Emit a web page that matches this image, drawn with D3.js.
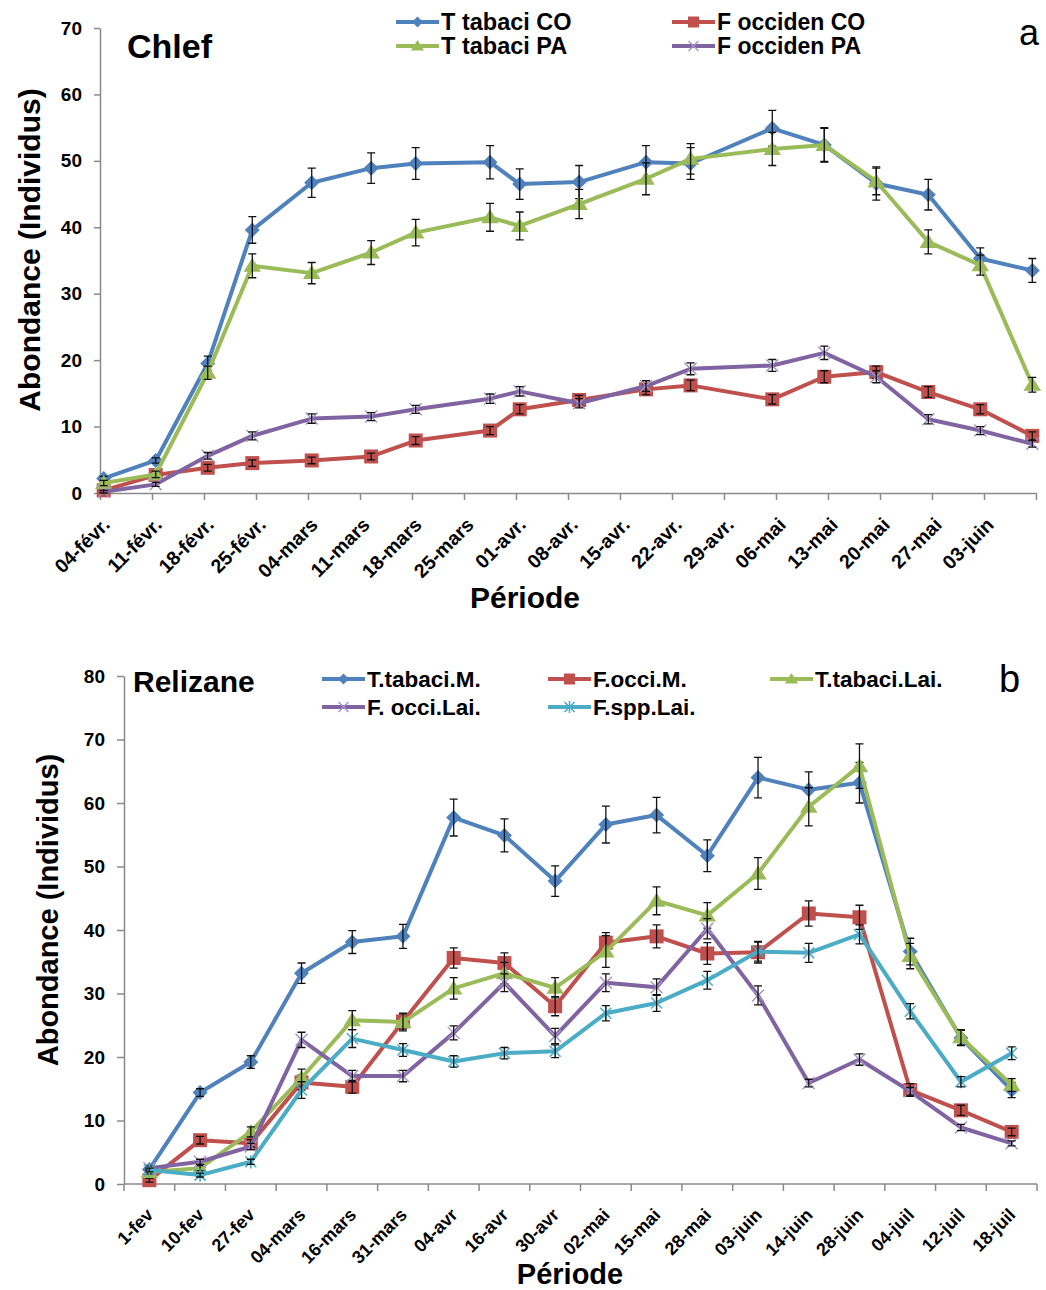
<!DOCTYPE html>
<html>
<head>
<meta charset="utf-8">
<script src="https://cdn.jsdelivr.net/npm/d3@7"></script>
<style>
  body { margin: 0; background: #fff; }
  svg { display: block; }
  text { font-family: "Liberation Sans", Arial, sans-serif; }
</style>
</head>
<body>
<svg id="fig" width="1046" height="1290"></svg>
<script>
// ---------- Panel a : Chlef (sampling dates as days after 04-févr.) ----------
const chlefDays = [0, 7, 14, 20, 28, 36, 42, 52, 56, 64, 73, 79, 90, 97, 104, 111, 118, 125];
const chlefTickDays = [0, 7, 14, 21, 28, 35, 42, 49, 56, 63, 70, 77, 84, 91, 98, 105, 112, 119, 126];
const chlefTickLabels = ["04-févr.", "11-févr.", "18-févr.", "25-févr.", "04-mars", "11-mars", "18-mars",
  "25-mars", "01-avr.", "08-avr.", "15-avr.", "22-avr.", "29-avr.", "06-mai", "13-mai", "20-mai", "27-mai", "03-juin"];
const chlefYTicks = [0, 10, 20, 30, 40, 50, 60, 70];

const tTabaciCO    = [2.2, 4.9, 19.5, 39.6, 46.7, 48.9, 49.6, 49.8, 46.5, 46.8, 49.8, 49.6, 54.9, 52.4, 46.6, 44.9, 35.3, 33.5];
const tTabaciCOErr = [0.3, 0.4, 1.1, 2.0, 2.2, 2.3, 2.4, 2.5, 2.3, 2.5, 2.5, 2.4, 2.7, 2.6, 2.5, 2.3, 1.6, 1.8];
const fOccidenCO    = [0.4, 2.7, 3.8, 4.5, 4.9, 5.5, 7.9, 9.4, 12.6, 14.0, 15.6, 16.2, 14.1, 17.5, 18.2, 15.2, 12.6, 8.6];
const fOccidenCOErr = [0.3, 0.4, 0.5, 0.5, 0.5, 0.5, 0.6, 0.6, 0.7, 0.7, 0.8, 0.8, 0.7, 0.9, 0.9, 0.8, 0.7, 0.6];
const tTabaciPA    = [1.5, 2.8, 18.1, 34.2, 33.1, 36.2, 39.2, 41.5, 40.2, 43.5, 47.3, 50.3, 51.8, 52.4, 46.9, 37.8, 34.3, 16.3];
const tTabaciPAErr = [0.4, 0.5, 1.0, 1.8, 1.6, 1.8, 2.0, 2.1, 2.1, 2.2, 2.4, 2.3, 2.5, 2.5, 2.0, 1.8, 1.5, 1.1];
const fOccidenPA    = [0.2, 1.3, 5.6, 8.6, 11.2, 11.5, 12.6, 14.2, 15.3, 13.5, 16.1, 18.7, 19.2, 21.1, 17.5, 11.1, 9.4, 7.4];
const fOccidenPAErr = [0.2, 0.3, 0.5, 0.6, 0.7, 0.6, 0.6, 0.7, 0.7, 0.7, 0.8, 0.9, 0.9, 1.0, 0.9, 0.7, 0.6, 0.5];

// ---------- Panel b : Relizane ----------
const relizaneDates = ["1-fev", "10-fev", "27-fev", "04-mars", "16-mars", "31-mars", "04-avr", "16-avr", "30-avr",
  "02-mai", "15-mai", "28-mai", "03-juin", "14-juin", "28-juin", "04-juil", "12-juil", "18-juil"];
const relizaneYTicks = [0, 10, 20, 30, 40, 50, 60, 70, 80];

const tTabaciM    = [2.3, 14.4, 19.2, 33.2, 38.1, 39.0, 57.7, 54.9, 47.7, 56.6, 58.1, 51.7, 64.0, 62.1, 63.2, 36.6, 23.0, 14.8];
const tTabaciMErr = [0.4, 0.6, 1.0, 1.6, 1.8, 1.9, 2.9, 2.6, 2.4, 2.9, 2.8, 2.5, 3.2, 2.8, 3.2, 2.1, 1.2, 1.2];
const fOcciM    = [0.6, 6.9, 6.4, 16.0, 15.3, 25.6, 35.6, 34.8, 28.0, 38.0, 39.0, 36.3, 36.5, 42.6, 42.0, 14.8, 11.6, 8.2];
const fOcciMErr = [0.3, 0.6, 0.6, 1.2, 1.0, 1.2, 1.6, 1.6, 1.5, 1.6, 1.8, 1.7, 1.7, 2.0, 1.9, 1.0, 0.8, 0.6];
const tTabaciLai    = [1.9, 2.5, 8.2, 16.7, 25.8, 25.5, 30.8, 33.2, 30.9, 36.6, 44.6, 42.3, 48.9, 59.4, 65.8, 35.9, 23.1, 15.6];
const tTabaciLaiErr = [0.3, 0.4, 0.8, 1.4, 1.5, 1.4, 1.7, 1.7, 1.6, 2.5, 2.2, 2.0, 2.5, 3.0, 3.5, 2.0, 1.2, 1.0];
const fOcciLai    = [2.5, 3.5, 5.9, 22.7, 17.0, 17.0, 23.8, 31.7, 23.3, 31.7, 31.0, 40.2, 29.7, 15.9, 19.6, 14.6, 8.9, 6.4];
const fOcciLaiErr = [0.3, 0.4, 0.5, 1.2, 0.9, 0.9, 1.1, 1.4, 1.2, 1.4, 1.3, 1.6, 1.5, 0.6, 0.9, 0.6, 0.5, 0.4];
const fSppLai    = [2.2, 1.4, 3.5, 14.8, 22.9, 21.1, 19.3, 20.6, 20.9, 26.9, 28.5, 32.1, 36.6, 36.4, 39.3, 27.2, 16.1, 20.6];
const fSppLaiErr = [0.3, 0.3, 0.4, 1.3, 1.4, 1.0, 0.9, 0.9, 1.0, 1.2, 1.3, 1.4, 1.5, 1.5, 1.5, 1.2, 0.8, 1.0];

const BLUE = "#4F81BD", RED = "#C0504D", GREEN = "#9BBB59", PURPLE = "#8064A2", CYAN = "#4BACC6";
const AXIS = "#8a8a8a";

const svg = d3.select("#fig");

// marker shapes drawn around (0,0)
function drawMarker(g, kind, color, s) {
  if (kind === "diamond") {
    g.append("path").attr("d", `M0,${-s}L${s},0L0,${s}L${-s},0Z`).attr("fill", color);
  } else if (kind === "square") {
    g.append("rect").attr("x", -s).attr("y", -s).attr("width", 2 * s).attr("height", 2 * s).attr("fill", color);
  } else if (kind === "triangle") {
    g.append("path").attr("d", `M0,${-s}L${s * 1.1},${s * 0.75}L${-s * 1.1},${s * 0.75}Z`).attr("fill", color);
  } else if (kind === "cross") {
    g.append("path").attr("d", `M${-s},${-s}L${s},${s}M${-s},${s}L${s},${-s}`)
      .attr("stroke", "#a393c6").attr("stroke-width", 1.4).attr("fill", "none");
  } else if (kind === "star") {
    g.append("path").attr("d", `M${-s},${-s}L${s},${s}M${-s},${s}L${s},${-s}M0,${-s * 1.2}L0,${s * 1.2}`)
      .attr("stroke", color).attr("stroke-width", 1.5).attr("fill", "none");
  }
}

function drawSeries(layer, xs, ys, errs, xScale, yScale, color, kind, size) {
  const pts = xs.map((x, i) => ({ x: xScale(x), y: yScale(ys[i]), lo: yScale(ys[i] - errs[i]), hi: yScale(ys[i] + errs[i]) }));
  layer.append("path")
    .attr("d", d3.line().x(d => d.x).y(d => d.y)(pts))
    .attr("fill", "none").attr("stroke", color).attr("stroke-width", 4)
    .attr("stroke-linejoin", "round");
  pts.forEach(p => drawMarker(layer.append("g").attr("transform", `translate(${p.x},${p.y})`), kind, color, size));
  const eb = layer.append("g").attr("stroke", "#111").attr("stroke-width", 1.3).attr("fill", "none");
  pts.forEach(p => {
    eb.append("path").attr("d", `M${p.x},${p.lo}L${p.x},${p.hi}M${p.x - 4},${p.lo}L${p.x + 4},${p.lo}M${p.x - 4},${p.hi}L${p.x + 4},${p.hi}`);
  });
}

function legendItem(g, x, y, color, kind, size, label, fontSize) {
  g.append("line").attr("x1", x).attr("x2", x + 43).attr("y1", y).attr("y2", y)
    .attr("stroke", color).attr("stroke-width", 4);
  drawMarker(g.append("g").attr("transform", `translate(${x + 21.5},${y})`), kind, color, size);
  g.append("text").attr("x", x + 45).attr("y", y).attr("dy", "0.36em")
    .attr("font-size", fontSize).attr("font-weight", "bold").attr("fill", "#000").text(label);
}

// ================= Panel a =================
{
  const x = d3.scaleLinear().domain([0, 126]).range([100, 1036]);
  const y = d3.scaleLinear().domain([0, 70]).range([493, 28]);
  const g = svg.append("g");

  const yAxis = g.append("g").attr("transform", "translate(100,0)")
    .call(d3.axisLeft(y).tickValues(chlefYTicks).tickSize(6).tickPadding(12).tickSizeOuter(0));
  yAxis.select(".domain").attr("stroke", AXIS).attr("stroke-width", 1.5);
  yAxis.selectAll(".tick line").attr("stroke", AXIS).attr("stroke-width", 1.5);
  yAxis.selectAll(".tick text").attr("font-size", 19).attr("font-weight", "bold").attr("fill", "#000")
    .attr("font-family", "Liberation Sans, Arial, sans-serif");

  const xAxis = g.append("g").attr("transform", "translate(0,493)")
    .call(d3.axisBottom(x).tickValues(chlefTickDays).tickSize(7).tickFormat("").tickSizeOuter(0));
  xAxis.select(".domain").attr("stroke", AXIS).attr("stroke-width", 1.5);
  xAxis.selectAll(".tick line").attr("stroke", AXIS).attr("stroke-width", 1.5);

  chlefTickLabels.forEach((lab, i) => {
    g.append("text")
      .attr("transform", `translate(${x(chlefTickDays[i]) + 11},${493 + 33}) rotate(-45)`)
      .attr("text-anchor", "end").attr("font-size", 19.5).attr("font-weight", "bold").attr("fill", "#000")
      .text(lab);
  });

  const half = d => d + 0.5;
  const lay = g.append("g");
  drawSeries(lay, chlefDays.map(half), tTabaciCO, tTabaciCOErr, x, y, BLUE, "diamond", 7.5);
  drawSeries(lay, chlefDays.map(half), fOccidenCO, fOccidenCOErr, x, y, RED, "square", 7);
  drawSeries(lay, chlefDays.map(half), tTabaciPA, tTabaciPAErr, x, y, GREEN, "triangle", 8);
  drawSeries(lay, chlefDays.map(half), fOccidenPA, fOccidenPAErr, x, y, PURPLE, "cross", 6);

  g.append("text").attr("x", 127).attr("y", 58).attr("font-size", 34).attr("font-weight", "bold").text("Chlef");
  g.append("text").attr("x", 1019).attr("y", 45).attr("font-size", 36).text("a");

  const leg = g.append("g");
  legendItem(leg, 396, 22, BLUE, "diamond", 5.5, "T tabaci CO", 23.5);
  legendItem(leg, 396, 46, GREEN, "triangle", 6, "T tabaci PA", 23.5);
  legendItem(leg, 672, 22, RED, "square", 5.5, "F occiden CO", 23);
  legendItem(leg, 672, 46, PURPLE, "cross", 5, "F occiden PA", 23);

  g.append("text").attr("transform", "translate(40,250) rotate(-90)").attr("text-anchor", "middle")
    .attr("font-size", 30).attr("font-weight", "bold").text("Abondance (Individus)");
  g.append("text").attr("x", 525).attr("y", 608).attr("text-anchor", "middle")
    .attr("font-size", 30).attr("font-weight", "bold").text("Période");
}

// ================= Panel b =================
{
  const x = d3.scaleBand().domain(relizaneDates).range([124, 1037]);
  const xc = d => x(d) + x.bandwidth() / 2;
  const y = d3.scaleLinear().domain([0, 80]).range([1184, 676]);
  const g = svg.append("g");

  const yAxis = g.append("g").attr("transform", "translate(124,0)")
    .call(d3.axisLeft(y).tickValues(relizaneYTicks).tickSize(7).tickPadding(12).tickSizeOuter(0));
  yAxis.select(".domain").attr("stroke", AXIS).attr("stroke-width", 1.5);
  yAxis.selectAll(".tick line").attr("stroke", AXIS).attr("stroke-width", 1.5);
  yAxis.selectAll(".tick text").attr("font-size", 19).attr("font-weight", "bold").attr("fill", "#000")
    .attr("font-family", "Liberation Sans, Arial, sans-serif");

  // category boundaries carry the tick marks
  const bounds = relizaneDates.map(d => x(d)).concat([1037]);
  const xAxisG = g.append("g");
  xAxisG.append("line").attr("x1", 124).attr("x2", 1037).attr("y1", 1184).attr("y2", 1184)
    .attr("stroke", AXIS).attr("stroke-width", 1.5);
  bounds.forEach(bx => xAxisG.append("line").attr("x1", bx).attr("x2", bx).attr("y1", 1184).attr("y2", 1191)
    .attr("stroke", AXIS).attr("stroke-width", 1.5));

  relizaneDates.forEach(lab => {
    g.append("text")
      .attr("transform", `translate(${xc(lab) + 5},${1184 + 32}) rotate(-45)`)
      .attr("text-anchor", "end").attr("font-size", 18).attr("font-weight", "bold").attr("fill", "#000")
      .text(lab);
  });

  const lay = g.append("g");
  const xsB = relizaneDates.slice();
  drawSeries(lay, xsB, tTabaciM, tTabaciMErr, xc, y, BLUE, "diamond", 7.5);
  drawSeries(lay, xsB, fOcciM, fOcciMErr, xc, y, RED, "square", 7);
  drawSeries(lay, xsB, tTabaciLai, tTabaciLaiErr, xc, y, GREEN, "triangle", 8);
  drawSeries(lay, xsB, fOcciLai, fOcciLaiErr, xc, y, PURPLE, "cross", 6);
  drawSeries(lay, xsB, fSppLai, fSppLaiErr, xc, y, CYAN, "star", 5.5);

  g.append("text").attr("x", 133).attr("y", 692).attr("font-size", 30).attr("font-weight", "bold").text("Relizane");
  g.append("text").attr("x", 999).attr("y", 692).attr("font-size", 38).text("b");

  const leg = g.append("g");
  legendItem(leg, 322, 679, BLUE, "diamond", 5.5, "T.tabaci.M.", 22.5);
  legendItem(leg, 548, 679, RED, "square", 5.5, "F.occi.M.", 22.5);
  legendItem(leg, 770, 679, GREEN, "triangle", 6, "T.tabaci.Lai.", 22.5);
  legendItem(leg, 322, 707, PURPLE, "cross", 5, "F. occi.Lai.", 22.5);
  legendItem(leg, 548, 707, CYAN, "star", 5, "F.spp.Lai.", 22.5);

  g.append("text").attr("transform", "translate(58,910) rotate(-90)").attr("text-anchor", "middle")
    .attr("font-size", 29).attr("font-weight", "bold").text("Abondance (Individus)");
  g.append("text").attr("x", 570).attr("y", 1284).attr("text-anchor", "middle")
    .attr("font-size", 29).attr("font-weight", "bold").text("Période");
}
</script>
</body>
</html>
